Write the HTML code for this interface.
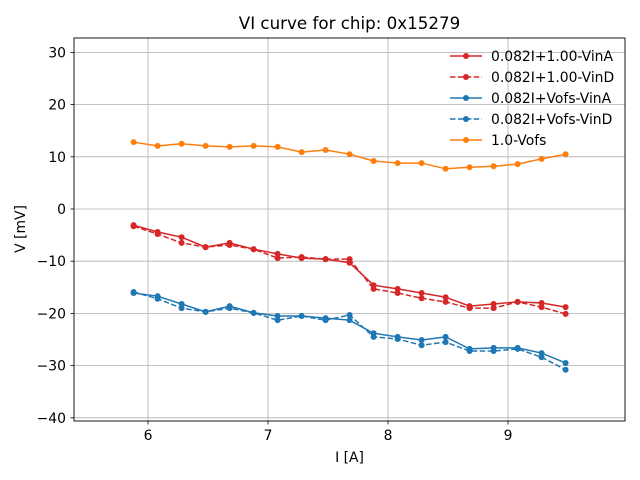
<!DOCTYPE html>
<html><head><meta charset="utf-8"><style>
body{margin:0;background:#fff;}
svg{display:block;font-family:"DejaVu Sans","Liberation Sans",sans-serif;}
</style></head><body>
<svg id="chart" width="640" height="480" viewBox="0 0 640 480" xmlns="http://www.w3.org/2000/svg">
<rect width="640" height="480" fill="#fff"/>
<text x="349.5" y="29" font-size="16.7" text-anchor="middle" fill="#000">VI curve for chip: 0x15279</text>
<g id="grid"></g><g id="ticks"></g><g id="series"></g>
<rect x="74" y="38" width="551" height="383" fill="none" stroke="#000" stroke-width="0.9"/>
<text x="349.5" y="462" font-size="13.9" text-anchor="middle">I [A]</text>
<text transform="translate(25,229) rotate(-90)" font-size="13.9" text-anchor="middle">V [mV]</text>
<g id="legend"></g>
</svg>
<script>
const current=[5.88,6.08,6.28,6.48,6.68,6.88,7.08,7.28,7.48,7.68,7.88,8.08,8.28,8.48,8.68,8.88,9.08,9.28,9.48];
const redVinA=[-3.1,-4.4,-5.4,-7.3,-6.5,-7.7,-8.6,-9.4,-9.6,-10.3,-14.6,-15.3,-16.1,-16.9,-18.6,-18.2,-17.8,-18.0,-18.8];
const redVinD=[-3.3,-4.8,-6.5,-7.3,-6.9,-7.7,-9.4,-9.2,-9.6,-9.6,-15.3,-16.1,-17.1,-17.8,-19.0,-19.0,-17.8,-18.8,-20.1];
const blueVinA=[-16.1,-16.7,-18.2,-19.7,-18.6,-19.9,-20.5,-20.5,-20.9,-21.3,-23.8,-24.5,-25.1,-24.5,-26.8,-26.6,-26.6,-27.6,-29.5];
const blueVinD=[-15.9,-17.2,-19.0,-19.7,-19.0,-19.9,-21.3,-20.5,-21.3,-20.3,-24.5,-24.9,-26.1,-25.5,-27.2,-27.2,-26.8,-28.4,-30.8];
const vofs=[12.8,12.1,12.5,12.1,11.9,12.1,11.9,10.9,11.3,10.5,9.2,8.8,8.8,7.7,8.0,8.2,8.6,9.6,10.5];
const xTicks=[6,7,8,9];
const yTicks=[30,20,10,0,-10,-20,-30,-40];
const seriesNames=["0.082I+1.00-VinA","0.082I+1.00-VinD","0.082I+Vofs-VinA","0.082I+Vofs-VinD","1.0-Vofs"];

const NS="http://www.w3.org/2000/svg";
const X=v=>148+(v-6)*120;
const Y=v=>209-v*5.22;
const fmt=t=>(t<0?'\u2212'+(-t):''+t);
function mk(tag,attrs,parent){const e=document.createElementNS(NS,tag);for(const k in attrs)e.setAttribute(k,attrs[k]);parent.appendChild(e);return e;}
const grid=document.getElementById('grid'),ticks=document.getElementById('ticks'),ser=document.getElementById('series'),leg=document.getElementById('legend');
xTicks.forEach(t=>{
  const g=mk('line',{x1:X(t),x2:X(t),y1:38,y2:421,stroke:'#b0b0b0','stroke-width':0.8},grid);
  
  
  mk('line',{x1:X(t),x2:X(t),y1:421,y2:424.5,stroke:'#000','stroke-width':0.8},ticks);
  const l=mk('text',{x:X(t),y:440,'font-size':13.9,'text-anchor':'middle'},ticks);l.textContent=fmt(t);
  
  
});
yTicks.forEach(t=>{
  const g=mk('line',{x1:74,x2:625,y1:Y(t),y2:Y(t),stroke:'#b0b0b0','stroke-width':0.8},grid);
  
  
  mk('line',{x1:70.5,x2:74,y1:Y(t),y2:Y(t),stroke:'#000','stroke-width':0.8},ticks);
  const l=mk('text',{x:66,y:Y(t)+5,'font-size':13.9,'text-anchor':'end'},ticks);l.textContent=fmt(t);
  
  
});
const defs=[[redVinA,'#d62728',''],[redVinD,'#d62728','5.5,2.4'],[blueVinA,'#1f77b4',''],[blueVinD,'#1f77b4','5.5,2.4'],[vofs,'#ff7f0e','']];
defs.forEach((d,i)=>{
  const g=mk('g',{},ser);
  
  
  const pts=d[0].map((v,j)=>X(current[j])+','+Y(v)).join(' ');
  mk('polyline',{points:pts,fill:'none',stroke:d[1],'stroke-width':1.5,'stroke-dasharray':d[2]||'none'},g);
  d[0].forEach((v,j)=>mk('circle',{cx:X(current[j]),cy:Y(v),r:3,fill:d[1]},g));
  const ly=56+i*21;
  const e=mk('g',{},leg);
  
  
  mk('line',{x1:450,x2:482,y1:ly,y2:ly,stroke:d[1],'stroke-width':1.5,'stroke-dasharray':d[2]||'none'},e);
  mk('circle',{cx:466,cy:ly,r:3,fill:d[1]},e);
  const t=mk('text',{x:491,y:ly+5,'font-size':13.9},e);t.textContent=seriesNames[i];
});
</script>
</body></html>
